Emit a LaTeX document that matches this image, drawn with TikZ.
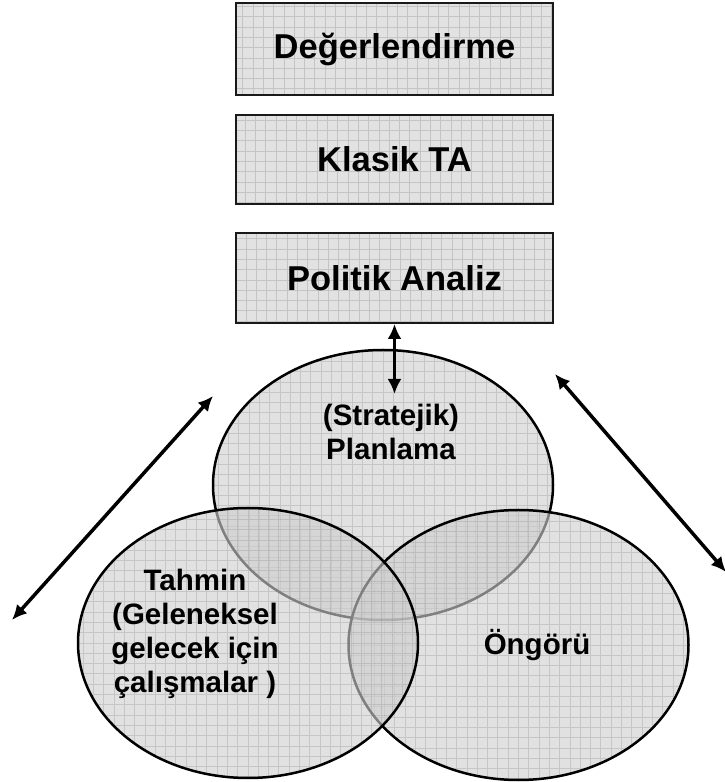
\documentclass[tikz,border=0pt]{standalone}
\usepackage{fontspec}
\setmainfont{Liberation Sans}
\usetikzlibrary{arrows.meta,shapes.geometric}
\definecolor{panel}{HTML}{E2E2E2}
\definecolor{gridc}{HTML}{C4C4C4}
\definecolor{blobfill}{gray}{0.806}
\tikzset{
  mesh/.style={draw=gridc, line width=0.9pt, step=10.3pt},
  box/.style={draw=black!90, line width=2pt, fill=panel, minimum width=317pt,
    inner sep=0pt, font=\fontsize{34.5}{40}\selectfont\bfseries,
    path picture={\draw[mesh] (path picture bounding box.south west) grid (path picture bounding box.north east);}},
  blob/.style={ellipse, draw=black, line width=2.5pt, fill=blobfill, fill opacity=0.62,
    minimum width=340pt, minimum height=270pt, inner sep=0pt,
    path picture={\draw[mesh, draw=black!50, draw opacity=0.27] (path picture bounding box.south west) grid (path picture bounding box.north east);}},
  lbl/.style={font=\fontsize{29.5}{34}\selectfont\bfseries, align=center, inner sep=0pt},
  link/.style={line width=3.5pt, {Latex[length=15pt,width=14pt]}-{Latex[length=15pt,width=14pt]}}
}
\begin{document}
\begin{tikzpicture}[x=1pt,y=1pt]
\useasboundingbox (0,0) rectangle (725,782);

% stacked boxes
\node[box, minimum height=92pt] (eval) at (394.5,733) {De\u{g}erlendirme};
\node[box, minimum height=89pt] (klasik) at (394.5,622.5) {Klasik TA};
\node[box, minimum height=90pt] (politik) at (394.5,504) {Politik Analiz};

% three overlapping ellipses (top first, then right, then left)
\node[blob] (plan) at (383,297) {};
\node[blob] (ongoru) at (518.5,137) {};
\node[blob] (tahmin) at (248,139) {};

% labels
\node[lbl] (planT) at (391,350) {(Stratejik)\\Planlama};
\node[lbl] (ongoruT) at (537,137) {Öngörü};
\node[lbl] (tahminT) at (195,148.5) {Tahmin\\(Geleneksel\\gelecek için\\çalışmalar )};

% connectors
\coordinate (planTip) at (394.5,388);
\coordinate (lA) at (12,162);
\coordinate (lB) at (213,386);
\coordinate (rA) at (555,408);
\coordinate (rB) at (726,210);
\draw[link] (politik.south) -- (planTip);
\draw[link] (lA) -- (lB);
\draw[link] (rA) -- (rB);
\end{tikzpicture}
\end{document}
